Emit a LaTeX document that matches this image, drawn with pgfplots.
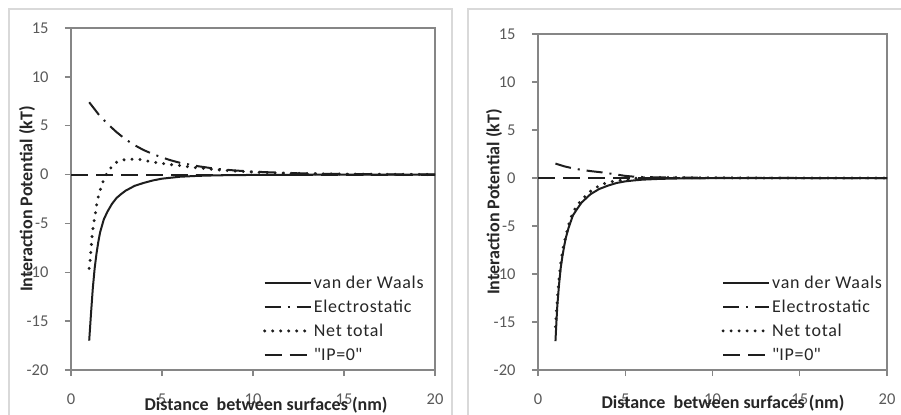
\documentclass[border=0pt]{standalone}
\usepackage{fontspec}
\setmainfont{Carlito}
\usepackage{pgfplots}
\pgfplotsset{compat=1.18}

\definecolor{axgray}{HTML}{868686}
\definecolor{lblgray}{HTML}{595959}
\definecolor{framegray}{HTML}{D9D9D9}
\definecolor{ink}{HTML}{1E1E1E}

% straight double quote, kept out of the tex-text mapping
\newcommand\dq{\XeTeXglyph\XeTeXcharglyph"22\relax}

\pgfplotsset{
  panel/.style={
    scale only axis, anchor=south west,
    xmin=0, xmax=20, ymin=-20, ymax=15,
    xtick={0,5,...,20}, ytick={-20,-15,...,15},
    axis line style={axgray, line width=1.3bp},
    tick style={axgray, line width=1.3bp},
    tick align=outside, major tick length=6bp,
    xtick pos=bottom, ytick pos=left,
    /pgf/number format/assume math mode=true,
    tick label style={font=\fontsize{16.5bp}{19bp}\selectfont, text=lblgray},
    xticklabel style={yshift=-14bp},
    yticklabel style={xshift=-13bp},
    label style={font=\fontsize{18bp}{21bp}\selectfont\bfseries, text=black!85},
    legend style={draw=none, fill=none, anchor=north west,
      row sep=7bp, inner sep=0pt,
      nodes={inner sep=1.5bp,
        font=\fontsize{18bp}{21bp}\selectfont\addfontfeature{LetterSpace=4},
        text=black!85}},
    legend cell align=left,
    legend image code/.code={\draw[##1] (0bp,0bp) -- (46bp,0bp);},
  },
  vdw/.style={ink, line width=2bp},
  elec/.style={ink, line width=2bp, dash pattern=on 16bp off 7bp on 2bp off 7bp},
  net/.style={ink, line width=3.3bp, line cap=round, dash pattern=on 0bp off 8bp},
  ipz/.style={ink, line width=2bp, dash pattern=on 17bp off 8bp},
}

\begin{document}
\begin{tikzpicture}[x=1bp,y=1bp]
\useasboundingbox (0,0) rectangle (901,414);
\draw[framegray, line width=1.2bp] (9,-5) rectangle (452,405);
\draw[framegray, line width=1.2bp] (468,-5) rectangle (915,405);
\coordinate (PL) at (71,44);
\coordinate (PR) at (538,44);

% left panel
\begin{axis}[panel, at={(PL)}, width=364bp, height=342bp,
  xlabel={Distance\ \ between surfaces (nm)},
  ylabel={Interaction Potential (kT)},
  xlabel style={at={(axis description cs:0.536,-0.102)}, anchor=center},
  ylabel style={at={(axis description cs:-0.121,0.5)}, anchor=center},
  legend style={at={(0.527,0.28)}}]
\addplot[vdw] coordinates {(1,-17)(1.1,-14.2)(1.2,-11.6)(1.3,-9.6)(1.4,-8.1)(1.5,-6.9)(1.6,-5.9)(1.8,-4.6)(2,-3.8)(2.25,-3.0)(2.5,-2.4)(2.75,-2.0)(3,-1.65)(3.5,-1.15)(4,-0.85)(4.5,-0.6)(5,-0.42)(5.5,-0.32)(6,-0.22)(7,-0.13)(8,-0.08)(9,-0.05)(10,-0.04)(12,-0.02)(15,-0.01)(20,0)};
\addlegendentry{van der Waals}
\addplot[elec] coordinates {(1,7.4)(1.5,6.2)(2,5.2)(2.5,4.35)(3,3.6)(3.5,3.0)(4,2.5)(4.5,2.1)(5,1.75)(5.5,1.45)(6,1.2)(7,0.85)(8,0.58)(9,0.42)(10,0.3)(12,0.15)(14,0.08)(16,0.04)(18,0.02)(20,0.01)};
\addlegendentry{Electrostatic}
\addplot[net] coordinates {(1,-9.6)(1.05,-8.8)(1.1,-7.6)(1.15,-6.5)(1.2,-5.6)(1.3,-4.4)(1.4,-3.2)(1.5,-2.3)(1.6,-1.6)(1.7,-1.0)(1.85,-0.3)(2,0.2)(2.25,0.85)(2.5,1.25)(2.75,1.47)(3.2,1.57)(3.7,1.57)(4.1,1.42)(4.6,1.25)(5,1.15)(5.5,1.02)(6,0.92)(6.5,0.78)(7,0.68)(8,0.5)(9,0.36)(10,0.26)(11,0.18)(12,0.13)(14,0.07)(16,0.04)(18,0.02)(20,0.01)};
\addlegendentry{Net total}
\addplot[ipz] coordinates {(0,0)(20,0)};
\addlegendentry{\dq IP=0\dq}
\end{axis}

% right panel
\begin{axis}[panel, at={(PR)}, width=349bp, height=336bp,
  xlabel={Distance\ \ between surfaces (nm)},
  ylabel={Interaction Potential (kT)},
  xlabel style={at={(axis description cs:0.530,-0.098)}, anchor=center},
  ylabel style={at={(axis description cs:-0.126,0.5)}, anchor=center},
  legend style={at={(0.525,0.285)}}]
\addplot[vdw] coordinates {(1,-17)(1.05,-15.2)(1.1,-13.5)(1.2,-11.2)(1.3,-9.4)(1.4,-8.15)(1.5,-7.1)(1.6,-6.2)(1.75,-5.2)(2,-3.9)(2.25,-3.2)(2.5,-2.55)(3,-1.7)(3.5,-1.15)(4,-0.8)(4.5,-0.52)(5,-0.35)(5.5,-0.25)(6,-0.17)(7,-0.09)(8,-0.05)(10,-0.02)(12,-0.01)(15,0)(20,0)};
\addlegendentry{van der Waals}
\addplot[elec] coordinates {(1,1.5)(1.5,1.22)(2,1.0)(2.5,0.85)(3,0.72)(3.5,0.62)(4,0.5)(4.5,0.36)(5,0.22)(5.5,0.14)(6,0.1)(7,0.06)(8,0.04)(10,0.02)(12,0.01)(15,0)(20,0)};
\addlegendentry{Electrostatic}
\addplot[net] coordinates {(1,-15.5)(1.05,-14.2)(1.1,-12.8)(1.2,-10.6)(1.3,-8.9)(1.4,-7.7)(1.5,-6.8)(1.6,-6.0)(1.8,-4.6)(2,-3.55)(2.25,-2.85)(2.5,-2.25)(3,-1.4)(3.5,-0.8)(4,-0.45)(4.5,-0.3)(5,-0.15)(5.5,-0.05)(6,0.02)(7,0.05)(8,0.04)(10,0.02)(12,0.01)(15,0)(20,0)};
\addlegendentry{Net total}
\addplot[ipz] coordinates {(0,0)(20,0)};
\addlegendentry{\dq IP=0\dq}
\end{axis}
\end{tikzpicture}
\end{document}
